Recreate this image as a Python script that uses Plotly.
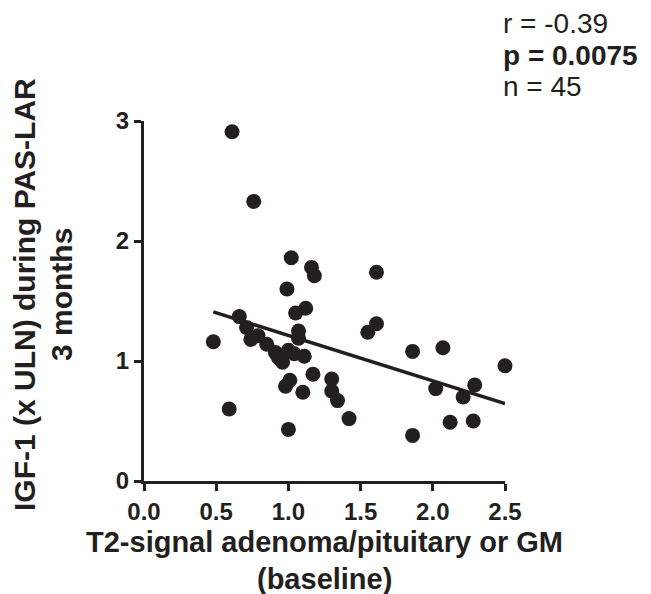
import numpy as np
import plotly.graph_objects as go

# T2-signal (baseline) vs IGF-1 (x ULN) during PAS-LAR 3 months
t2_signal = [0.61, 0.76, 1.02, 1.16, 1.18, 0.99, 1.12, 1.05, 0.66, 0.71,
             1.07, 0.74, 0.48, 0.79, 0.85, 0.91, 0.93, 0.96, 1.00, 1.04,
             1.11, 0.95, 1.17, 1.01, 0.98, 1.10, 0.59, 1.00, 1.61, 1.61,
             1.55, 1.86, 2.07, 2.50, 1.30, 1.30, 1.34, 1.42, 2.02, 2.29,
             2.21, 2.12, 2.28, 1.86, 1.07]
igf1 = [2.91, 2.33, 1.86, 1.78, 1.71, 1.60, 1.44, 1.40, 1.37, 1.28,
        1.25, 1.18, 1.16, 1.21, 1.14, 1.07, 1.03, 0.99, 1.09, 1.06,
        1.04, 1.01, 0.89, 0.84, 0.79, 0.74, 0.60, 0.43, 1.74, 1.31,
        1.24, 1.08, 1.11, 0.96, 0.85, 0.75, 0.67, 0.52, 0.77, 0.80,
        0.70, 0.49, 0.50, 0.38, 1.19]

x_ticks = [0.0, 0.5, 1.0, 1.5, 2.0, 2.5]
x_tick_labels = ["0.0", "0.5", "1.0", "1.5", "2.0", "2.5"]
y_ticks = [0, 1, 2, 3]
y_tick_labels = ["0", "1", "2", "3"]
x_title_lines = ["<b>T2-signal adenoma/pituitary or GM</b>", "<b>(baseline)</b>"]
y_title_lines = ["<b>IGF-1 (x ULN) during PAS-LAR</b>", "<b>3 months</b>"]
stats_lines = ["r = -0.39", "<b>p = 0.0075</b>", "n = 45"]

INK = "#231f20"
FONT = "Liberation Sans"

xa = np.array(t2_signal)
ya = np.array(igf1)
slope, intercept = np.polyfit(xa, ya, 1)
fit_x = [float(xa.min()), float(xa.max())]
fit_y = [slope * v + intercept for v in fit_x]

fig = go.Figure()
fig.add_trace(go.Scatter(x=fit_x, y=fit_y, mode="lines",
                         line=dict(color=INK, width=3.5), hoverinfo="skip",
                         cliponaxis=False))
fig.add_trace(go.Scatter(x=t2_signal, y=igf1, mode="markers",
                         marker=dict(color=INK, size=15, line=dict(width=0)),
                         cliponaxis=False))

W, H = 651, 594
L, R, T, B = 136, 154, 113, 121

fig.update_layout(
    width=W, height=H,
    margin=dict(l=L, r=R, t=T, b=B),
    plot_bgcolor="white", paper_bgcolor="white",
    showlegend=False,
    font=dict(family=FONT, color=INK),
)
fig.update_xaxes(range=[0, 2.5], tickvals=x_ticks, ticktext=x_tick_labels,
                 showgrid=False, zeroline=False, showline=True,
                 linecolor=INK, linewidth=3, ticks="outside", ticklen=7,
                 tickwidth=3, tickcolor=INK,
                 tickfont=dict(family=FONT, size=24, color=INK, weight="bold"))
fig.update_yaxes(range=[0, 3], tickvals=y_ticks, ticktext=y_tick_labels,
                 showgrid=False, zeroline=False, showline=True,
                 linecolor=INK, linewidth=3, ticks="outside", ticklen=7,
                 tickwidth=3, tickcolor=INK, ticklabelstandoff=0,
                 tickfont=dict(family=FONT, size=24, color=INK, weight="bold"))

pw = W - L - R
ph = H - T - B
def px_x(p):
    return (p - L) / pw
def px_y(p):
    return 1 - (p - T) / ph

# X-axis title (one annotation per line)
for s, yp in zip(x_title_lines, [534, 571]):
    fig.add_annotation(text=s, xref="paper", yref="paper",
                       x=px_x(316), y=px_y(yp), showarrow=False,
                       font=dict(family=FONT, size=29, color=INK),
                       xanchor="center", yanchor="middle")
# Y-axis title (one annotation per line)
for s, xp in zip(y_title_lines, [16, 53]):
    fig.add_annotation(text=s, xref="paper", yref="paper",
                       x=px_x(xp), y=px_y(287), textangle=-90,
                       showarrow=False,
                       font=dict(family=FONT, size=30, color=INK),
                       xanchor="center", yanchor="middle")
# Stats
for i, s in enumerate(stats_lines):
    fig.add_annotation(text=s, xref="paper", yref="paper",
                       x=px_x(493), y=px_y(15 + 32 * i),
                       showarrow=False, xanchor="left", yanchor="middle",
                       font=dict(family=FONT, size=28, color=INK))

fig.write_html("out.html")
